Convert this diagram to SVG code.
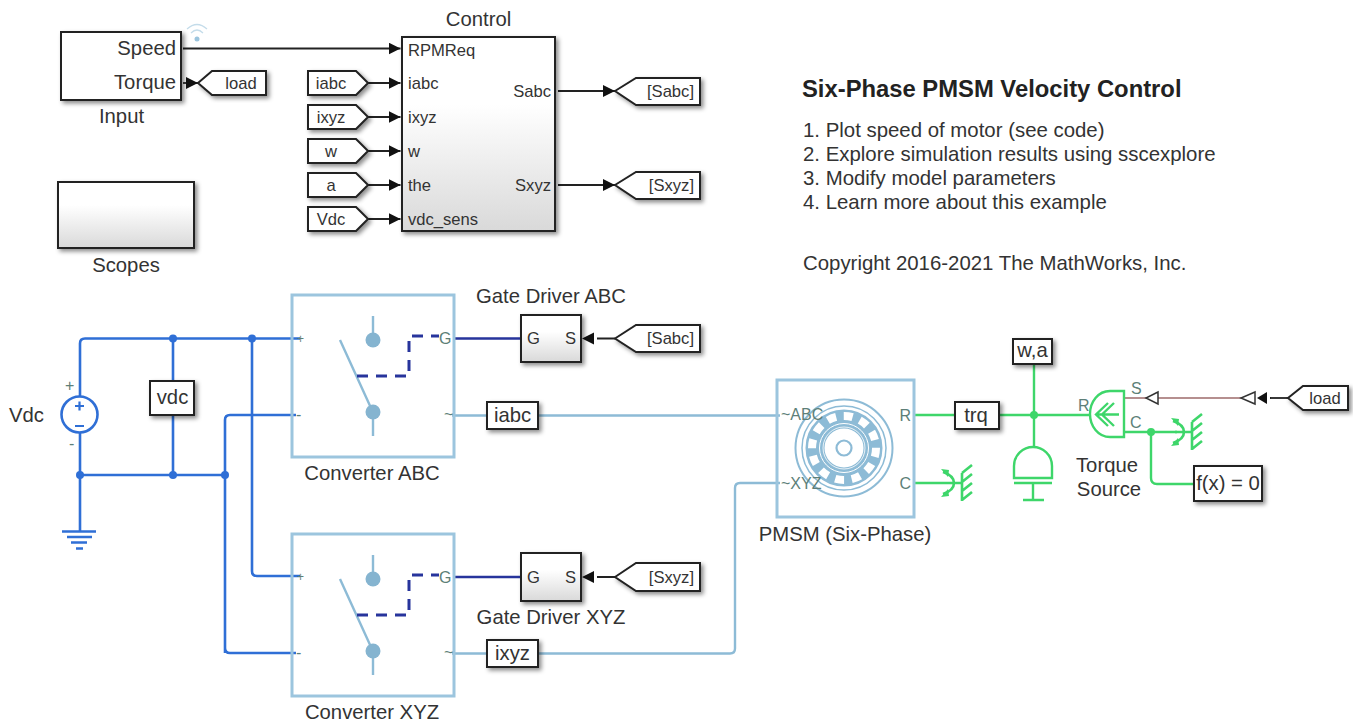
<svg xmlns="http://www.w3.org/2000/svg" width="1353" height="721" viewBox="0 0 1353 721">
<defs>
<linearGradient id="grad" x1="0" y1="0" x2="0" y2="1"><stop offset="0.35" stop-color="#ffffff"/><stop offset="1" stop-color="#d9d9d9"/></linearGradient>
<filter id="sh" x="-20%" y="-20%" width="150%" height="150%"><feDropShadow dx="2.5" dy="2.5" stdDeviation="2" flood-color="#000" flood-opacity="0.45"/></filter>
<marker id="ah" markerUnits="userSpaceOnUse" markerWidth="12" markerHeight="12" refX="12" refY="6" orient="auto"><path d="M0,0L12,6L0,12Z" fill="#111"/></marker>
<g id="mref"><path fill="none" stroke="#3ed66a" stroke-width="2.6" d="M0,12H17M-2,1C4,3 9,7 9,12C9,17 4,21 -2,23M17,2V30M17,2L27,-6M17,11L27,3M17,20L27,12M17,29L27,21"/><path d="M-4,-2L4,-1L3,6ZM-4,26L4,25L3,18Z" fill="#3ed66a"/></g>
<g id="sw"><path class="lb" d="M81,21V40M81,117V141M48,45L79,113"/><circle cx="81" cy="45" r="7.5" fill="#85b4d0"/><circle cx="81" cy="117" r="7.5" fill="#85b4d0"/><path d="M65,81H117V41H147" fill="none" stroke="#27349c" stroke-width="3" stroke-dasharray="11 8"/></g>
</defs>
<style>
text{font-family:"Liberation Sans",Arial,sans-serif;fill:#333}
.l{font-size:20.3px}.m{font-size:16.6px}.c{text-anchor:middle}.e{text-anchor:end}
.n{font-size:20.4px}
.b{fill:#fff;stroke:#222;stroke-width:2;filter:url(#sh)}
.g{fill:url(#grad);stroke:#222;stroke-width:2;filter:url(#sh)}
.sig{fill:none;stroke:#222;stroke-width:1.8}
.el{fill:none;stroke:#2f6fd6;stroke-width:2.6}
.lb{fill:none;stroke:#8dbbd6;stroke-width:2.4}
.gr{fill:none;stroke:#3ed66a;stroke-width:2.4}
.fr{fill:none;stroke:#9cc5de;stroke-width:3}
.nv{fill:none;stroke:#27349c;stroke-width:2.4}
.p{fill:#5d7f78;font-size:16px}
.dot{fill:#2f6fd6}.dg{fill:#3ed66a}
</style>
<rect width="1353" height="721" fill="#fff"/>
<g id="connectors">
<path class="sig" d="M183,48.5H400.5" marker-end="url(#ah)"/>
<path class="sig" d="M368,83H400.5" marker-end="url(#ah)"/>
<path class="sig" d="M368,117H400.5" marker-end="url(#ah)"/>
<path class="sig" d="M368,151H400.5" marker-end="url(#ah)"/>
<path class="sig" d="M368,185H400.5" marker-end="url(#ah)"/>
<path class="sig" d="M368,219H400.5" marker-end="url(#ah)"/>
<path class="sig" d="M558,91H615" marker-end="url(#ah)"/>
<path class="sig" d="M558,185H615" marker-end="url(#ah)"/>
<path class="sig" d="M615,338.5H597M615,577H597"/>
<path d="M594,332.500L582,338.500L594,344.500ZM594,571L582,577L594,583Z" fill="#111"/>
<path class="el" d="M300,338.500H85Q80,338.500 80,343.500V396M80,433V531M80,475H225M173,338.500V381M173,415V475M252,338.500V571Q252,576 257,576H300M225,653V420Q225,415 230,415H296M225,475V648Q225,653 230,653H296"/>
<path class="nv" d="M453,338.500H521M453,577H521"/>
<path class="lb" d="M452,415.500H487M538,415.500H780M452,653.500H487M538,653.500H730Q735,653.500 735,648.500V488Q735,483 740,483H780"/>
<path class="gr" d="M914,415H955M914,483H945M1000,415H1090M1034,364V447M1124,432H1177M1151,432V478Q1151,484 1157,484H1194"/>
<path fill="none" stroke="#b58f8f" stroke-width="2.2" d="M1124,398H1146M1158,398H1241"/>
<path class="sig" d="M1288,398H1270"/>
<circle class="dot" cx="173" cy="338.500" r="4"/><circle class="dot" cx="252" cy="338.500" r="4"/><circle class="dot" cx="80" cy="475" r="4"/><circle class="dot" cx="173" cy="475" r="4"/><circle class="dot" cx="225" cy="475" r="4"/>
<circle class="dg" cx="1034" cy="415" r="4"/><circle class="dg" cx="1151" cy="432" r="4"/>
</g>
<g id="input"><rect class="b" x="61" y="32" width="120" height="68"/><text class="e l" x="176" y="55">Speed</text><text class="e l" x="176" y="89">Torque</text><text class="c l" x="121.500" y="123">Input</text>
<circle cx="197" cy="39" r="2.500" fill="#9cc5de"/><path d="M191,33Q197,27 203,33M187,29Q197,20 207,29" fill="none" stroke="#c4dcea" stroke-width="1.200"/></g>
<g id="load-top"><path class="b" d="M198,83L212,71H266V95H212Z"/><text class="m c" x="241" y="89">load</text></g>
<path class="sig" d="M183,83H198" marker-end="url(#ah)"/>
<g id="scopes"><rect class="g" x="58" y="182" width="136" height="66"/><text class="c l" x="126" y="272">Scopes</text></g>
<g id="control"><rect class="g" x="402" y="37" width="153" height="194"/><text class="c l" x="478.500" y="26">Control</text>
<text class="m" x="408" y="56">RPMReq</text><text class="m" x="408" y="89">iabc</text><text class="m" x="408" y="123">ixyz</text><text class="m" x="408" y="157">w</text><text class="m" x="408" y="191">the</text><text class="m" x="408" y="225">vdc_sens</text><text class="m e" x="551" y="97">Sabc</text><text class="m e" x="551" y="191">Sxyz</text></g>
<g id="tag-iabc"><path class="b" d="M308,71H356L368,83L356,95H308Z"/><text class="m c" x="331" y="89">iabc</text></g>
<g id="tag-ixyz"><path class="b" d="M308,105H356L368,117L356,129H308Z"/><text class="m c" x="331" y="123">ixyz</text></g>
<g id="tag-w"><path class="b" d="M308,139H356L368,151L356,163H308Z"/><text class="m c" x="331" y="157">w</text></g>
<g id="tag-a"><path class="b" d="M308,173H356L368,185L356,197H308Z"/><text class="m c" x="331" y="191">a</text></g>
<g id="tag-vdc"><path class="b" d="M308,207H356L368,219L356,231H308Z"/><text class="m c" x="331" y="225">Vdc</text></g>
<g id="goto-sabc"><path class="b" d="M615,91L636,78H700V105H636Z"/><text class="m e" x="694" y="97">[Sabc]</text></g>
<g id="goto-sxyz"><path class="b" d="M615,185L636,172H700V199H636Z"/><text class="m e" x="694" y="191">[Sxyz]</text></g>
<g id="annotation"><text x="802" y="97" font-size="23.8" font-weight="700" style="fill:#222">Six-Phase PMSM Velocity Control</text>
<text class="n" x="803" y="137">1. Plot speed of motor (see code)</text><text class="n" x="803" y="161">2. Explore simulation results using sscexplore</text><text class="n" x="803" y="185">3. Modify model parameters</text><text class="n" x="803" y="209">4. Learn more about this example</text><text class="n" x="803" y="270">Copyright 2016-2021 The MathWorks, Inc.</text></g>
<g id="vdc-source"><circle cx="79.500" cy="414.500" r="18" fill="#fff" stroke="#2f6fd6" stroke-width="2.600"/><path d="M75,406H84M79.500,401.500V410.500M75,426H84" stroke="#2f6fd6" stroke-width="2.200"/><text class="l" x="9" y="422">Vdc</text><text class="p" x="65" y="391" font-size="13">+</text><text class="p" x="69" y="449">-</text></g>
<g id="ground"><path d="M62,531.500H96M67,537H92M71,542.500H87M76,548.500H83" stroke="#2f6fd6" stroke-width="2.400"/></g>
<g id="vdc-sensor"><rect class="b" x="150" y="381" width="44" height="34"/><text class="l c" x="172.500" y="404">vdc</text></g>
<g id="converter-abc"><rect class="fr" x="292" y="295" width="162" height="162"/><use href="#sw" x="292" y="295"/><text class="p" x="297" y="343" style="font-size:12px">+</text><text class="p" x="296" y="420">-</text><text class="p" x="439" y="344">G</text><text class="p" x="444" y="420">~</text><text class="l c" x="372" y="480">Converter ABC</text></g>
<g id="converter-xyz"><rect class="fr" x="292" y="534" width="162" height="162"/><use href="#sw" x="292" y="534"/><text class="p" x="297" y="581" style="font-size:12px">+</text><text class="p" x="296" y="658">-</text><text class="p" x="439" y="583">G</text><text class="p" x="444" y="658">~</text><text class="l c" x="372" y="719">Converter XYZ</text></g>
<g id="driver-abc"><rect class="g" x="521" y="315" width="60" height="47"/><text class="m" x="527" y="344">G</text><text class="m e" x="576" y="344">S</text><text class="l c" x="551" y="303">Gate Driver ABC</text></g>
<g id="driver-xyz"><rect class="g" x="521" y="553" width="60" height="48"/><text class="m" x="527" y="583">G</text><text class="m e" x="576" y="583">S</text><text class="l c" x="551" y="624">Gate Driver XYZ</text></g>
<g id="tag-sabc2"><path class="b" d="M615,338.500L636,325H700V352H636Z"/><text class="m e" x="694" y="344">[Sabc]</text></g>
<g id="tag-sxyz2"><path class="b" d="M615,577L636,563H700V591H636Z"/><text class="m e" x="694" y="583">[Sxyz]</text></g>
<g id="iabc"><rect class="b" x="487" y="402" width="51" height="27"/><text class="l c" x="512.500" y="422">iabc</text></g>
<g id="ixyz"><rect class="b" x="487" y="640" width="51" height="27"/><text class="l c" x="512.500" y="660">ixyz</text></g>
<g id="pmsm"><rect class="fr" x="777" y="380" width="137" height="137"/>
<g fill="none" stroke="#8dbbd6"><circle cx="844" cy="448" r="48.500" stroke-width="2"/><circle cx="844" cy="448" r="42" stroke-width="1.500"/><circle cx="844" cy="448" r="29" stroke-width="19"/><circle cx="844" cy="448" r="32" stroke="#fff" stroke-width="8" stroke-dasharray="9 7.700"/><circle cx="844" cy="448" r="24.500" stroke="#fff" stroke-width="1"/><circle cx="844" cy="448" r="21" stroke="#fff" stroke-width="0.800"/><circle cx="844" cy="448" r="7.500" stroke-width="2.200"/></g>
<text class="p" x="781" y="420">~ABC</text><text class="p" x="781" y="489">~XYZ</text><text class="p e" x="911" y="421">R</text><text class="p e" x="911" y="489">C</text><text class="l c" x="845" y="541">PMSM (Six-Phase)</text></g>
<use href="#mref" x="945" y="471"/>
<g id="trq"><rect class="b" x="955" y="402" width="44" height="27"/><text class="l c" x="976" y="422">trq</text></g>
<g id="wa"><rect class="b" x="1013" y="339" width="39" height="25"/><text class="l c" x="1032.500" y="357">w,a</text></g>
<g id="inertia"><path class="gr" d="M1014,478V466C1014,455 1023,447 1033,447C1043,447 1052,455 1052,466V478ZM1014,483H1052M1033,483V500M1023,500H1044"/></g>
<g id="torque-source"><path class="gr" d="M1124,391V437H1110C1098,437 1090,426 1090,414C1090,402 1098,391 1110,391ZM1119,414.500H1096M1108,403L1096,414.500L1108,426M1114,403L1102,414.500L1114,426"/><text class="p" x="1131" y="394">S</text><text class="p" x="1078" y="411">R</text><text class="p" x="1130" y="428">C</text><text class="l c" x="1107" y="472">Torque</text><text class="l c" x="1109" y="496">Source</text>
<path d="M1158,392L1146,398L1158,404Z" fill="#fff" stroke="#333" stroke-width="1.500"/><path d="M1255,392L1241,398L1255,404Z" fill="#fff" stroke="#333" stroke-width="1.500"/><path d="M1267,392L1257,398L1267,404Z" fill="#111"/></g>
<use href="#mref" x="1175" y="420"/>
<g id="fx"><rect class="b" x="1194" y="466" width="68" height="35"/><text class="l c" x="1228" y="490">f(x) = 0</text></g>
<g id="load-right"><path class="b" d="M1288,398L1303,386H1348V410H1303Z"/><text class="m c" x="1325" y="404">load</text></g>
</svg>
